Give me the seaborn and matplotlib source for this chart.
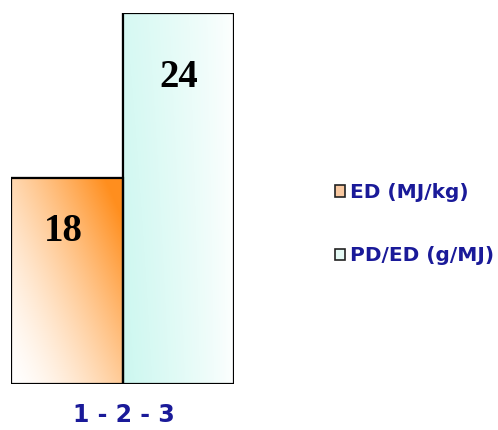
import numpy as np
import matplotlib
matplotlib.use('Agg')
import matplotlib.pyplot as plt
import seaborn as sns
import pandas as pd
from matplotlib.patches import Patch

# data
series = ['ED (MJ/kg)', 'PD/ED (g/MJ)']
values = [18, 24]
group_label = '1 - 2 - 3'

sns.set_theme(style='white')
plt.rcParams['font.family'] = ['DejaVu Sans']

df = pd.DataFrame({'series': series, 'value': values})

fig = plt.figure(figsize=(4.98, 4.30), dpi=100)
ax = fig.add_axes([0.022, 0.107, 0.448, 0.863])

sns.barplot(data=df, x='series', y='value', hue='series', width=1.0,
            palette=['#ffffff', '#ffffff'], edgecolor='black', linewidth=1.5,
            legend=False, ax=ax)

ax.set_xlim(-0.5, 1.5)
ax.set_ylim(10.5, 24.0)

# gradient fills clipped to each bar
n = 200
gx, gy = np.meshgrid(np.linspace(0, 1, n), np.linspace(0, 1, n))
t_orange = np.clip(0.6 * gx + 0.5 * gy, 0, 1) ** 1.5
orange = np.array([1.0, 0.56, 0.12])
img_o = np.ones((n, n, 3)) * (1 - t_orange[..., None]) + orange * t_orange[..., None]
t_cyan = np.clip(1 - gx, 0, 1) ** 0.8 * (0.8 + 0.2 * (1 - gy))
cyan = np.array([0.80, 0.97, 0.94])
img_c = np.ones((n, n, 3)) * (1 - t_cyan[..., None]) + cyan * t_cyan[..., None]

for patch, img in zip(ax.patches, [img_o, img_c]):
    x0, y0 = patch.get_x(), patch.get_y()
    w, h = patch.get_width(), patch.get_height()
    bottom = max(y0, 10.5)
    im = ax.imshow(img, extent=[x0, x0 + w, bottom, y0 + h], origin='lower',
                   aspect='auto', zorder=patch.get_zorder() + 0.1)
    im.set_clip_path(patch)
    ax.add_patch(plt.Rectangle((x0, bottom), w, y0 + h - bottom, fill=False,
                               edgecolor='black', linewidth=1.6,
                               zorder=patch.get_zorder() + 0.2))

# value labels
label_y = [16.05, 21.65]
for i, v in enumerate(values):
    ax.text(i - 0.03 * (i == 0), label_y[i], str(v), ha='center', va='center',
            fontsize=28, fontweight='bold', family='Liberation Serif',
            color='black', zorder=5)

ax.set_xticks([])
ax.set_yticks([])
ax.set_xlabel('')
ax.set_ylabel('')
for s in ax.spines.values():
    s.set_visible(False)

fig.text(0.248, 1 - 415 / 430, group_label, ha='center', va='center',
         fontsize=17, fontweight='bold', color='#1a1a99')

handles = [Patch(facecolor='#f8c8a0', edgecolor='#222222', linewidth=1.2),
           Patch(facecolor='#e6fbf6', edgecolor='#222222', linewidth=1.2)]
leg = fig.legend(handles, series, loc='upper left',
                 bbox_to_anchor=(0.636, 1 - 165 / 430), frameon=False,
                 handlelength=0.5, handleheight=0.5, handletextpad=0.25,
                 labelspacing=2.2, prop={'weight': 'bold', 'size': 14.5})
for t in leg.get_texts():
    t.set_color('#1a1a99')

fig.savefig('out.png', dpi=100)
